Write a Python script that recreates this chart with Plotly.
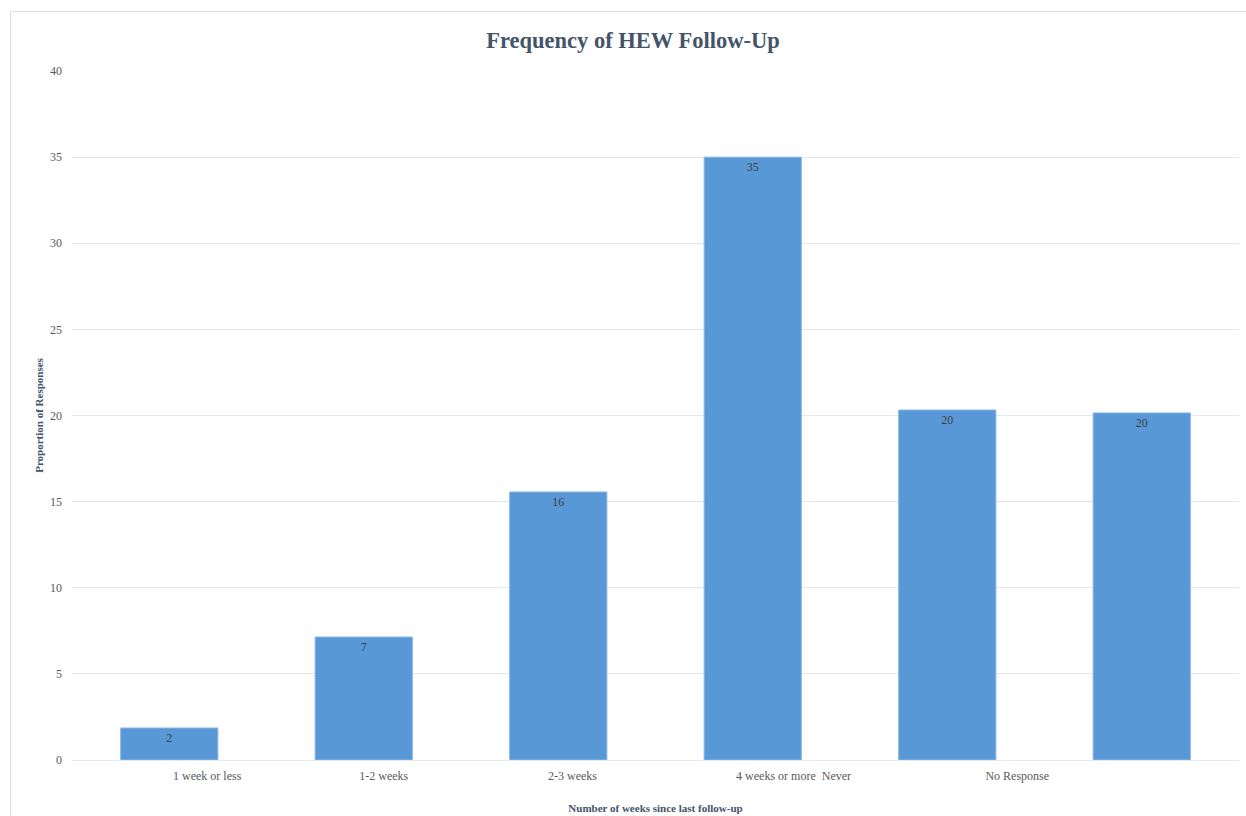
import plotly.graph_objects as go

categories = ["1 week or less", "1-2 weeks", "2-3 weeks", "4 weeks or more", "Never", "No Response"]
values = [1.86, 7.14, 15.56, 35.0, 20.32, 20.15]
value_labels = ["2", "7", "16", "35", "20", "20"]
tick_labels = ["1 week or less", "1-2 weeks", "2-3 weeks", "4 weeks or more  Never", "No Response"]
tick_positions = [0.195, 1.103, 2.073, 3.21, 4.36]

SERIF = "Liberation Serif, Times New Roman, serif"
W, H = 1246, 816
L, R, T, B = 72, 7, 71, 56
pw, ph = W - L - R, H - T - B

fig = go.Figure(go.Bar(
    x=list(range(len(categories))),
    y=values,
    width=0.5,
    hovertext=categories,
    text=value_labels,
    textposition="inside",
    insidetextanchor="end",
    textangle=0,
    constraintext="none",
    textfont=dict(family=SERIF, size=12, color="#404040"),
    marker=dict(color="#5898d6", line=dict(color="#8db7e4", width=1)),
))

fig.update_layout(
    width=W, height=H,
    margin=dict(l=L, r=R, t=T, b=B),
    paper_bgcolor="white", plot_bgcolor="white",
    showlegend=False,
    font=dict(family=SERIF, color="#595959"),
    title=dict(text="<b>Frequency of HEW Follow-Up</b>", x=(633 - L) / pw, xref="paper",
               xanchor="center", y=1 - 40 / H, yanchor="middle",
               font=dict(family=SERIF, size=22.5, color="#44546a")),
    xaxis=dict(range=[-0.5, len(categories) - 0.5], tickmode="array",
               tickvals=tick_positions, ticktext=tick_labels,
               tickfont=dict(family=SERIF, size=12, color="#595959"),
               ticklabelstandoff=7, automargin=False,
               showgrid=False, zeroline=False, showline=False, ticks="",
               title=dict(text="<b>Number of weeks since last follow-up</b>",
                          font=dict(family=SERIF, size=11, color="#44546a"), standoff=22)),
    yaxis=dict(range=[0, 40], dtick=5, showgrid=True, gridcolor="#e3e7ed", gridwidth=1,
               zeroline=True, zerolinecolor="#e3e7ed", zerolinewidth=1, showline=False,
               ticks="", ticklabelstandoff=9, automargin=False,
               tickfont=dict(family=SERIF, size=12, color="#595959"),
               title=dict(text="<b>Proportion of Responses</b>",
                          font=dict(family=SERIF, size=11, color="#44546a"), standoff=4)),
)

# chart frame (top and left edges)
x_left = (10.5 - L) / pw
y_top = 1 + (T - 11.5) / ph
y_bot = -(B) / ph - 0.01
fig.add_shape(type="line", xref="paper", yref="paper", x0=x_left, x1=1 + R / pw + 0.01,
              y0=y_top, y1=y_top, line=dict(color="#dadfe6", width=1), layer="below")
fig.add_shape(type="line", xref="paper", yref="paper", x0=x_left, x1=x_left,
              y0=y_top, y1=y_bot, line=dict(color="#dadfe6", width=1), layer="below")

fig.write_html("out.html")
